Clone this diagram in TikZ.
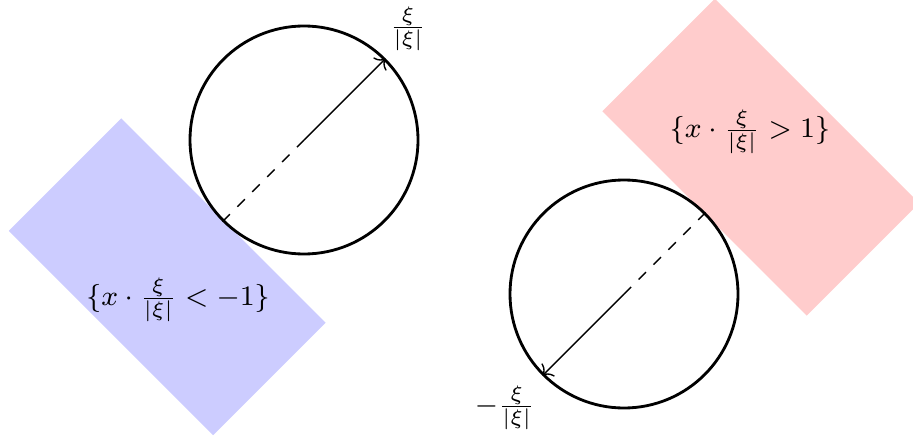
\documentclass[tikz,border=0pt]{standalone}
\usepackage{amsmath, amssymb}
\usepackage{xcolor}
\usepackage{tikz}
\usetikzlibrary{arrows.meta, positioning, calc}

\begin{document}
\begin{tikzpicture}[every node/.style={font=\fontsize{8.2}{10}\selectfont}]
    \useasboundingbox (0, 0) rectangle (9.13, -4.36);
    \clip (0, 0) rectangle (9.13, -4.36);

    % half planes
    \begin{scope}[shift={(2.234, -2.206)}, rotate=-45]
        \fill[blue!20] (-1.445, 0) rectangle (1.445, -1.59);
    \end{scope}
    \begin{scope}[shift={(7.046, -2.134)}, rotate=-45]
        \fill[red!20] (-1.445, 0) rectangle (1.445, 1.59);
    \end{scope}

    \node[draw, circle, thick, minimum size=2.28cm] (c1) at (3.04, -1.40) {};
    \node[draw, circle, thick, minimum size=2.28cm] (c2) at (6.24, -2.94) {};

    \draw[->] (c1.center) -- (c1.45);
    \draw[dashed] (c1.225) -- (c1.center);
    \draw[->] (c2.center) -- (c2.225);
    \draw[dashed] (c2.45) -- (c2.center);

    \node (xi) at (4.08, -0.285) {$\frac{\xi}{|\xi|}$};
    \node (mxi) at (5.05, -4.08) {$-\frac{\xi}{|\xi|}$};

    \node (lo) at (1.78, -3.00) {$\{x\cdot\frac{\xi}{|\xi|}<-1\}$};
    \node (hi) at (7.50, -1.32) {$\{x\cdot\frac{\xi}{|\xi|}>1\}$};
\end{tikzpicture}
\end{document}
